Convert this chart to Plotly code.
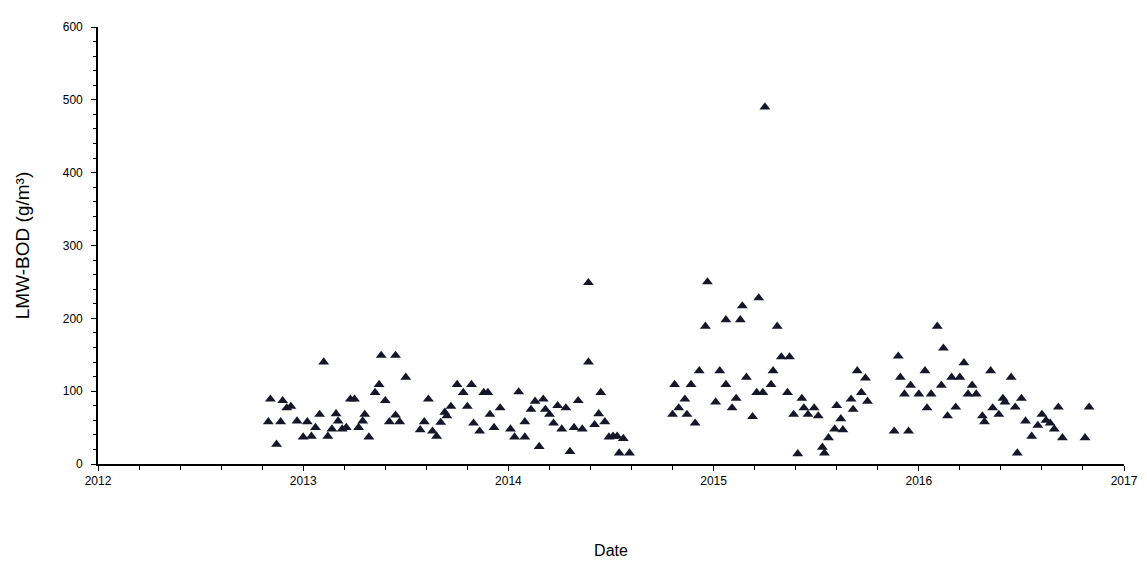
import plotly.graph_objects as go

# Sampling dates (decimal years) and LMW-BOD values (g/m3)
date_years = [
    2012.83, 2012.84, 2012.87, 2012.89, 2012.90, 2012.92, 2012.94, 2012.97, 2013.00, 2013.02,
    2013.04, 2013.06, 2013.08, 2013.10, 2013.12, 2013.14, 2013.16, 2013.17, 2013.19, 2013.21,
    2013.23, 2013.25, 2013.27, 2013.29, 2013.30, 2013.32, 2013.35, 2013.37, 2013.38, 2013.40,
    2013.42, 2013.45, 2013.45, 2013.47, 2013.50,
    2013.57, 2013.59, 2013.61, 2013.63, 2013.65, 2013.67, 2013.69, 2013.70, 2013.72, 2013.75,
    2013.78, 2013.80, 2013.82, 2013.83, 2013.86, 2013.88, 2013.90, 2013.91, 2013.93, 2013.96,
    2014.01, 2014.03, 2014.05, 2014.08, 2014.08, 2014.11, 2014.13, 2014.15, 2014.17,
    2014.18, 2014.20, 2014.22, 2014.24, 2014.26, 2014.28, 2014.30, 2014.32, 2014.34, 2014.36,
    2014.39, 2014.39, 2014.42, 2014.44, 2014.45, 2014.47, 2014.49, 2014.51, 2014.53, 2014.54,
    2014.56, 2014.59,
    2014.80, 2014.81, 2014.83, 2014.86, 2014.87, 2014.89, 2014.91, 2014.93, 2014.96, 2014.97,
    2015.01, 2015.03, 2015.06, 2015.06, 2015.09, 2015.11, 2015.13, 2015.14, 2015.16, 2015.19,
    2015.21, 2015.22, 2015.24, 2015.25, 2015.28, 2015.29, 2015.31, 2015.33, 2015.37, 2015.36,
    2015.39, 2015.41, 2015.43, 2015.44, 2015.46, 2015.49, 2015.51, 2015.53, 2015.54, 2015.56,
    2015.59, 2015.60,
    2015.62, 2015.63, 2015.67, 2015.68, 2015.70, 2015.72, 2015.74, 2015.75, 2015.88, 2015.90,
    2015.91, 2015.93, 2015.95, 2015.96, 2016.00, 2016.03, 2016.04, 2016.06, 2016.09, 2016.11,
    2016.12, 2016.14, 2016.16, 2016.18, 2016.20, 2016.22, 2016.24, 2016.26, 2016.28, 2016.31,
    2016.32, 2016.35, 2016.36, 2016.39, 2016.41, 2016.42, 2016.45, 2016.47, 2016.48, 2016.50,
    2016.52, 2016.55, 2016.58, 2016.60, 2016.62, 2016.64, 2016.66, 2016.68, 2016.70, 2016.81,
    2016.83,
]

lmw_bod = [
    58, 89, 27, 58, 87, 77, 79, 59, 37, 58,
    38, 50, 68, 140, 38, 48, 69, 59, 48, 50,
    89, 89, 50, 59, 68, 37, 98, 109, 149, 87,
    58, 67, 149, 58, 119,
    47, 58, 89, 45, 38, 57, 71, 66, 79, 109,
    98, 79, 109, 56, 45, 98, 98, 68, 50, 77,
    48, 37, 99, 58, 37, 75, 86, 24, 89,
    75, 68, 56, 80, 48, 77, 17, 50, 87, 48,
    140, 249, 54, 69, 98, 58, 37, 38, 38, 15,
    35, 15,
    68, 109, 77, 89, 68, 109, 56, 128, 189, 250,
    85, 128, 109, 198, 77, 90, 198, 217, 119, 65,
    98, 228, 98, 490, 109, 128, 189, 147, 147, 98,
    68, 14, 90, 77, 68, 77, 66, 23, 15, 36,
    48, 80,
    62, 47, 89, 75, 128, 98, 118, 86, 45, 148,
    119, 96, 45, 108, 96, 128, 77, 96, 189, 108,
    159, 66, 119, 78, 119, 139, 96, 108, 96, 66,
    58, 128, 77, 68, 90, 85, 119, 78, 15, 90,
    59, 38, 53, 68, 60, 56, 48, 78, 36, 36,
    78,
]

x_ticks = [2012, 2013, 2014, 2015, 2016, 2017]
y_ticks = [0, 100, 200, 300, 400, 500, 600]

font_family = "Liberation Sans, Arial, sans-serif"

fig = go.Figure()
fig.add_trace(go.Scatter(
    x=date_years, y=lmw_bod, mode="markers",
    marker=dict(symbol="triangle-up", size=9.5, color="#16162b",
                line=dict(width=0)),
    showlegend=False,
))

axis_common = dict(
    showgrid=False, zeroline=False, showline=True, linecolor="#000000", linewidth=1.6,
    ticks="outside", ticklen=5, tickcolor="#000000", tickwidth=1,
    tickfont=dict(family=font_family, size=12, color="#000000"),
)

fig.update_xaxes(
    range=[2012, 2017], tickvals=x_ticks, ticktext=[str(t) for t in x_ticks],
    minor=dict(dtick=0.2, tick0=2012, ticks="outside", ticklen=4, tickcolor="#000000"),
    title=dict(text="Date", font=dict(family=font_family, size=16, color="#000000"), standoff=58),
    **axis_common,
)
fig.update_yaxes(
    range=[0, 600], tickvals=y_ticks,
    minor=dict(dtick=20, tick0=0, ticks="outside", ticklen=3, tickcolor="#000000"),
    title=dict(text="LMW-BOD (g/m³)", font=dict(family=font_family, size=19, color="#000000"), standoff=28),
    ticklabelstandoff=6,
    **axis_common,
)

fig.update_layout(
    width=1147, height=566,
    margin=dict(l=90, r=31, t=12, b=110),
    paper_bgcolor="#ffffff", plot_bgcolor="#ffffff",
    font=dict(family=font_family),
)

fig.write_html("out.html")
